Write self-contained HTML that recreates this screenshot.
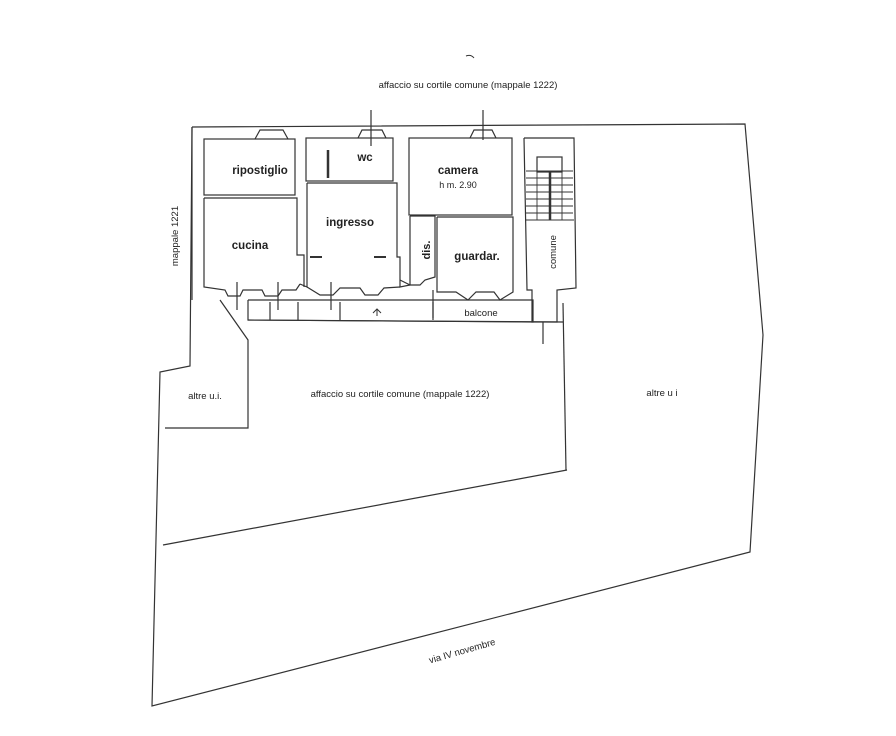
<!DOCTYPE html>
<html><head><meta charset="utf-8"><style>
html,body{margin:0;padding:0;background:#fff;}
svg{display:block;}
text{font-family:"Liberation Sans",sans-serif;fill:#222;}
</style></head><body>
<svg width="896" height="736" viewBox="0 0 896 736" xmlns="http://www.w3.org/2000/svg">
<g fill="none" stroke="#333" stroke-width="1.2">
<polyline points="192,127 745,124 763,335 750,552 152,706 160,372 190,366 192,127"/>
<polyline points="192,127 192,300"/>
<line x1="163" y1="545" x2="567" y2="470"/>
<polyline points="563,303 566,470"/>
<line x1="543" y1="322" x2="543" y2="344"/>
<polyline points="220,300 248,340 248,428 165,428"/>
<polyline points="248,300 533,300 533,322 248,320 248,300"/>
<line x1="270" y1="302" x2="270" y2="320"/>
<line x1="298" y1="302" x2="298" y2="320"/>
<line x1="340" y1="302" x2="340" y2="320"/>
<line x1="433" y1="302" x2="433" y2="320"/>
<line x1="248" y1="320" x2="563" y2="322"/>
<rect x="204" y="139" width="91" height="56"/>
<polyline points="204,198 297,198 297,255 304,255 304,287"/>
<polyline points="204,198 204,287 225,290 228,296 240,296 243,290 262,290 265,296 278,296 282,290 296,290 300,284"/>
<rect x="306" y="138" width="87" height="43"/>
<polyline points="307,183 397,183 397,257 400,257 400,280"/>
<polyline points="307,183 307,287 300,284"/>
<polyline points="307,287 320,295 333,295 340,288 360,288 365,295 378,295 384,288 400,287"/>
<rect x="409" y="138" width="103" height="77"/>
<polyline points="410,216 435,216 435,277 425,280 420,285 410,285 410,216"/>
<polyline points="437,217 513,217 513,292 500,300 494,292 476,292 468,300 456,292 441,292 437,292 437,217"/>
<polyline points="400,280 410,285 400,287 400,280"/>
<polyline points="524,138 574,138 576,288 557,290 557,322 532,322 532,290 527,290 524,138"/>
<rect x="537" y="157" width="25" height="15"/>
<g stroke-width="0.9">
<line x1="526" y1="171" x2="573" y2="171"/>
<line x1="526" y1="178" x2="573" y2="178"/>
<line x1="526" y1="185" x2="573" y2="185"/>
<line x1="526" y1="192" x2="573" y2="192"/>
<line x1="526" y1="199" x2="573" y2="199"/>
<line x1="526" y1="206" x2="573" y2="206"/>
<line x1="526" y1="213" x2="573" y2="213"/>
<line x1="526" y1="220" x2="574" y2="220"/>
<line x1="537" y1="171" x2="537" y2="220"/>
<line x1="562" y1="171" x2="562" y2="220"/>
</g>
<line x1="550" y1="171" x2="550" y2="220" stroke-width="2.5"/>
<polyline points="255,139 260,130 283,130 288,139"/>
<polyline points="358,138 362,130 382,130 386,138"/>
<polyline points="470,138 474,130 492,130 496,138"/>
<line x1="371" y1="110" x2="371" y2="146"/>
<line x1="483" y1="110" x2="483" y2="140"/>
<line x1="328" y1="150" x2="328" y2="178" stroke-width="2.5"/>
<line x1="310" y1="257" x2="322" y2="257" stroke-width="2"/>
<line x1="374" y1="257" x2="386" y2="257" stroke-width="2"/>
<line x1="237" y1="282" x2="237" y2="310"/>
<line x1="278" y1="282" x2="278" y2="310"/>
<line x1="331" y1="282" x2="331" y2="310"/>
<line x1="433" y1="290" x2="433" y2="318"/>
</g>
<path d="M373 313 L377 309 L381 313 M377 309 L377 316" stroke="#333" fill="none"/>
<path d="M466 56 q5 -2 8 2" stroke="#333" fill="none"/>
<g font-size="9.5">
<text x="468" y="88" text-anchor="middle">affaccio su cortile comune (mappale 1222)</text>
<text x="205" y="399" text-anchor="middle">altre u.i.</text>
<text x="400" y="397" text-anchor="middle">affaccio su cortile comune (mappale 1222)</text>
<text x="662" y="396" text-anchor="middle">altre u i</text>
<text x="481" y="316" text-anchor="middle">balcone</text>
<text transform="translate(463,654) rotate(-16)" text-anchor="middle">via IV novembre</text>
<text transform="translate(178,236) rotate(-90)" text-anchor="middle">mappale 1221</text>
<text transform="translate(556,252) rotate(-90)" text-anchor="middle">comune</text>
<text transform="translate(430,250) rotate(-90)" text-anchor="middle" font-size="11" font-weight="bold">dis.</text>
</g>
<g font-size="11.5" font-weight="bold" text-anchor="middle">
<text x="260" y="174">ripostiglio</text>
<text x="365" y="161">wc</text>
<text x="458" y="174">camera</text>
<text x="458" y="188" font-size="9" font-weight="normal">h m. 2.90</text>
<text x="350" y="226">ingresso</text>
<text x="250" y="249">cucina</text>
<text x="477" y="260">guardar.</text>
</g>
</svg>
</body></html>
